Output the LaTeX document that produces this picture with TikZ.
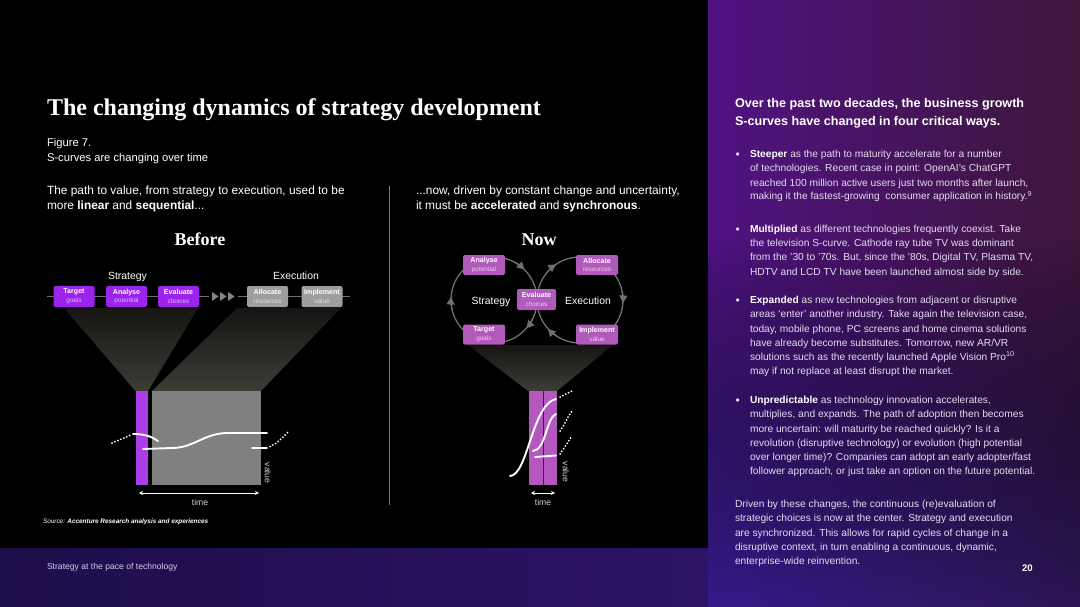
\documentclass[tikz,border=0pt]{standalone}
\usepackage{fontspec}
\setmainfont{Liberation Sans}
\newfontfamily\dispserif{Liberation Serif}
\usetikzlibrary{arrows.meta,fadings,calc}

\definecolor{panelL}{RGB}{80,18,130}
\definecolor{panelR}{RGB}{62,22,58}
\definecolor{panelLowL}{RGB}{54,26,140}
\definecolor{panelLowR}{RGB}{44,22,84}
\definecolor{footA}{RGB}{30,14,74}
\definecolor{footB}{RGB}{44,19,102}
\definecolor{vio}{RGB}{155,35,235}
\definecolor{vioSub}{RGB}{228,185,255}
\definecolor{boxGrey}{RGB}{158,158,158}
\definecolor{greySub}{RGB}{225,225,225}
\definecolor{plum}{RGB}{176,90,188}
\definecolor{plumSub}{RGB}{245,205,245}
\definecolor{barVio}{RGB}{170,62,232}
\definecolor{barGrey}{RGB}{128,128,128}
\definecolor{barPlum}{RGB}{180,88,192}
\definecolor{plumDiv}{RGB}{70,20,80}
\definecolor{funTop}{RGB}{22,21,19}
\definecolor{funBot}{RGB}{62,60,55}
\definecolor{ringGrey}{RGB}{112,112,112}
\definecolor{divLine}{RGB}{120,106,210}
\definecolor{bodyTxt}{RGB}{226,220,240}
\definecolor{footTxt}{RGB}{215,200,240}
\definecolor{axisTxt}{RGB}{210,210,210}

\tikzfading[name=riseup, top color=transparent!100, bottom color=transparent!0]

% two-line label inside a step box
\newcommand\steplabel[3]{\textbf{#1}\\{\fontsize{6.4}{8.6}\selectfont\color{#3}#2}}

\begin{document}
\begin{tikzpicture}[x=1pt,y=-1pt,
  txt/.style={inner sep=0pt,outer sep=0pt,anchor=base west,text=white},
  lead/.style={txt,font=\fontsize{11.9}{14}\selectfont},
  body/.style={txt,text=bodyTxt,font=\fontsize{10.2}{12}\selectfont},
  bulletmark/.style={txt,text=bodyTxt,font=\fontsize{12}{12}\selectfont},
  head/.style={txt,font=\fontsize{12.6}{15}\selectfont\bfseries},
  bigserif/.style={txt,anchor=base,font=\fontsize{18}{20}\selectfont\dispserif\bfseries},
  axislabel/.style={inner sep=0pt,text=axisTxt,font=\fontsize{8.6}{10}\selectfont},
  stagebox/.style={rectangle,rounded corners=2pt,minimum width=41pt,minimum height=21pt,
    inner sep=0pt,align=center,text=white,font=\fontsize{7.1}{8.6}\selectfont},
  oldstrat/.style={stagebox,fill=vio},
  oldexec/.style={stagebox,fill=boxGrey},
  newstep/.style={stagebox,fill=plum,minimum width=42pt,minimum height=20pt},
  rowline/.style={draw=ringGrey,line width=1.3pt},
  ring/.style={draw=ringGrey,line width=1.3pt},
  ringtip/.style={ring,-{Triangle[length=7.5pt,width=8pt]}},
  scurve/.style={draw=white,line width=1.9pt,line cap=round},
  dotcurve/.style={draw=white,line width=2pt,line cap=round,dash pattern=on 0pt off 3.2pt},
  timearrow/.style={draw=white,line width=0.8pt,{Stealth[length=4pt,width=4pt]}-{Stealth[length=4pt,width=4pt]}}
]
\useasboundingbox (0,0) rectangle (1080,607);

% ---------- backgrounds ----------
\fill[black] (0,0) rectangle (708,548);
\fill[left color=footA,right color=footB] (0,548) rectangle (708,607);
\fill[left color=panelL,right color=panelR] (708,0) rectangle (1080,607);
\fill[left color=panelLowL,right color=panelLowR,path fading=riseup] (708,240) rectangle (1080,607);

% ---------- title and captions ----------
\node[txt,font=\fontsize{24}{28}\selectfont\dispserif\bfseries] (title) at (47,115.4)
  {The changing dynamics of strategy development};
\node[txt,font=\fontsize{11.2}{13}\selectfont] (fignum) at (47,147) {Figure 7.};
\node[txt,font=\fontsize{11.2}{13}\selectfont] (figcap) at (47,162) {S-curves are changing over time};

\node[lead] (beforeA) at (47,195) {The path to value, from strategy to execution, used to be};
\node[lead] (beforeB) at (47,210) {more \textbf{linear} and \textbf{sequential}...};
\node[lead] (nowA) at (416,195) {...now, driven by constant change and uncertainty,};
\node[lead] (nowB) at (416,210) {it must be \textbf{accelerated} and \textbf{synchronous}.};

\coordinate (divTop) at (389,186);
\coordinate (divBot) at (389,505);
\draw[divLine,line width=0.9pt] (divTop) -- (divBot);

% ---------- Before ----------
\node[bigserif] (beforeHd) at (200,246) {Before};
\node[txt,anchor=base,font=\fontsize{10.4}{12}\selectfont] (stratLbl) at (127.5,279) {Strategy};
\node[txt,anchor=base,font=\fontsize{10.4}{12}\selectfont] (execLbl) at (296,279) {Execution};

% funnels beneath the step row
\fill[top color=funTop,bottom color=funBot] (64,308) -- (198,308) -- (148,391) -- (135.5,391) -- cycle;
\fill[top color=funTop,bottom color=funBot] (237,308) -- (341,308) -- (261,391) -- (152,391) -- cycle;

\coordinate (rowL) at (47,296.5);
\coordinate (rowR) at (350,296.5);
\draw[rowline] (rowL) -- (rowR);

\node[oldstrat] (target) at (74,296.5) {\steplabel{Target}{goals}{vioSub}};
\node[oldstrat] (analyse) at (126.5,296.5) {\steplabel{Analyse}{potential}{vioSub}};
\node[oldstrat] (evaluate) at (178.5,296.5) {\steplabel{Evaluate}{choices}{vioSub}};
\node[oldexec] (allocate) at (267.5,296.5) {\steplabel{Allocate}{resources}{greySub}};
\node[oldexec] (implement) at (322,296.5) {\steplabel{Implement}{value}{greySub}};

% hand-over chevrons
\fill[black] (209,288) rectangle (238,305);
\foreach \cx in {212,220,228}
  \fill[ringGrey!85] (\cx,292) -- (\cx+6.5,296.5) -- (\cx,301) -- cycle;

% strategy bar and execution block
\fill[barVio] (135.5,390.5) rectangle (148,485);
\fill[barGrey] (152,390.5) rectangle (261,485);

% S-curves
\draw[dotcurve] (112,443) -- (131,435);
\draw[scurve] (133,434) .. controls (146,434) and (152,437) .. (158,441);
\draw[scurve] (143,449) -- (172,448) .. controls (194,448) and (204,433) .. (228,433) -- (267,433);
\draw[scurve] (252,448) -- (267,448);
\draw[dotcurve] (270,446.5) .. controls (278,443) and (282,438) .. (288,432);

\coordinate (oldTimeL) at (139,493);
\coordinate (oldTimeR) at (259,493);
\draw[timearrow] (oldTimeL) -- (oldTimeR);
\node[axislabel,anchor=base] (oldTime) at (200,505.5) {time};
\node[axislabel,rotate=-90] (oldValue) at (268,473) {value};

% ---------- Now ----------
\node[bigserif] (nowHd) at (539,246) {Now};

\fill[top color=funTop,bottom color=funBot] (468,345) -- (613,345) -- (557,391) -- (528,391) -- cycle;

\coordinate (cl) at (494,300);
\coordinate (cr) at (580,300);
\draw[ring] (cl) circle[radius=43pt];
\draw[ring] (cr) circle[radius=43pt];
\draw[ringtip] ($(cl)+(192:43pt)$) arc[start angle=192,end angle=176,radius=43pt];
\draw[ringtip] ($(cl)+(60:43pt)$) arc[start angle=60,end angle=45,radius=43pt];
\draw[ringtip] ($(cl)+(-26:43pt)$) arc[start angle=-26,end angle=-41,radius=43pt];
\draw[ringtip] ($(cr)+(139:43pt)$) arc[start angle=139,end angle=124,radius=43pt];
\draw[ringtip] ($(cr)+(12:43pt)$) arc[start angle=12,end angle=-4,radius=43pt];
\draw[ringtip] ($(cr)+(237:43pt)$) arc[start angle=237,end angle=222,radius=43pt];

\node[txt,anchor=base,font=\fontsize{10.4}{12}\selectfont] (nowStrat) at (491,304.5) {Strategy};
\node[txt,anchor=base,font=\fontsize{10.4}{12}\selectfont] (nowExec) at (588,304.5) {Execution};

\node[newstep] (nAnalyse) at (484,265) {\steplabel{Analyse}{potential}{plumSub}};
\node[newstep] (nAllocate) at (597,265) {\steplabel{Allocate}{resources}{plumSub}};
\node[newstep,minimum width=39pt,minimum height=21pt] (nEvaluate) at (536.5,299.5) {\steplabel{Evaluate}{choices}{plumSub}};
\node[newstep] (nTarget) at (484,334.5) {\steplabel{Target}{goals}{plumSub}};
\node[newstep] (nImplement) at (597,334.5) {\steplabel{Implement}{value}{plumSub}};

% synchronised bars
\fill[barPlum] (529,391) rectangle (557,485);
\draw[plumDiv,line width=1pt] (543.5,391) -- (543.5,485);

\draw[scurve] (510,476) .. controls (528,475) and (532,404) .. (556,399);
\draw[dotcurve] (560,397) -- (572,391);
\draw[scurve] (533,451) .. controls (546,450) and (546,418) .. (556,414);
\draw[dotcurve] (560,431) .. controls (565,424) and (568,416) .. (572,411);
\draw[scurve] (535,457) -- (556,455.5);
\draw[dotcurve] (560,454) .. controls (565,447) and (568,442) .. (572,436);

\coordinate (newTimeL) at (531,493);
\coordinate (newTimeR) at (555,493);
\draw[timearrow] (newTimeL) -- (newTimeR);
\node[axislabel,anchor=base] (newTime) at (543,505.5) {time};
\node[axislabel,rotate=-90] (newValue) at (566,472) {value};

% ---------- source and footer ----------
\node[txt,font=\fontsize{6.4}{8}\selectfont\itshape] (source) at (43,523.5)
  {Source: \textbf{Accenture Research analysis and experiences}};
\node[txt,text=footTxt,font=\fontsize{8.6}{10}\selectfont] (footer) at (47,569) {Strategy at the pace of technology};
\node[txt,font=\fontsize{9.6}{11}\selectfont\bfseries] (pageNo) at (1022,571.5) {20};

% ---------- right panel ----------
\node[head] (hA) at (735,108) {Over the past two decades, the business growth};
\node[head] (hB) at (735,125.5) {S-curves have changed in four critical ways.};

\node[bulletmark] (dotA) at (735.5,158.5) {•};
\node[body] (pA1) at (750,157.7) {\textbf{\color{white}Steeper} as the path to maturity accelerate for a number};
\node[body] (pA2) at (750,171.9) {of technologies. Recent case in point: OpenAI’s ChatGPT};
\node[body] (pA3) at (750,186) {reached 100 million active users just two months after launch,};
\node[body] (pA4) at (750,200) {making it the fastest-growing\ \ consumer application in history.\textsuperscript{9}};

\node[bulletmark] (dotB) at (735.5,233.5) {•};
\node[body] (pB1) at (750,232.7) {\textbf{\color{white}Multiplied} as different technologies frequently coexist. Take};
\node[body] (pB2) at (750,246.7) {the television S-curve. Cathode ray tube TV was dominant};
\node[body] (pB3) at (750,261) {from the ’30 to ’70s. But, since the ’80s, Digital TV, Plasma TV,};
\node[body] (pB4) at (750,275) {HDTV and LCD TV have been launched almost side by side.};

\node[bulletmark] (dotC) at (735.5,304.5) {•};
\node[body] (pC1) at (750,303.7) {\textbf{\color{white}Expanded} as new technologies from adjacent or disruptive};
\node[body] (pC2) at (750,317.7) {areas ‘enter’ another industry. Take again the television case,};
\node[body] (pC3) at (750,332) {today, mobile phone, PC screens and home cinema solutions};
\node[body] (pC4) at (750,346) {have already become substitutes. Tomorrow, new AR/VR};
\node[body] (pC5) at (750,360.4) {solutions such as the recently launched Apple Vision Pro\textsuperscript{10}};
\node[body] (pC6) at (750,374.7) {may if not replace at least disrupt the market.};

\node[bulletmark] (dotD) at (735.5,404.5) {•};
\node[body] (pD1) at (750,403.7) {\textbf{\color{white}Unpredictable} as technology innovation accelerates,};
\node[body] (pD2) at (750,417.7) {multiplies, and expands. The path of adoption then becomes};
\node[body] (pD3) at (750,432) {more uncertain: will maturity be reached quickly? Is it a};
\node[body] (pD4) at (750,446) {revolution (disruptive technology) or evolution (high potential};
\node[body] (pD5) at (750,460.4) {over longer time)? Companies can adopt an early adopter/fast};
\node[body] (pD6) at (750,474.4) {follower approach, or just take an option on the future potential.};

\node[body] (pE1) at (735,507.7) {Driven by these changes, the continuous (re)evaluation of};
\node[body] (pE2) at (735,521.7) {strategic choices is now at the center. Strategy and execution};
\node[body] (pE3) at (735,536) {are synchronized. This allows for rapid cycles of change in a};
\node[body] (pE4) at (735,550) {disruptive context, in turn enabling a continuous, dynamic,};
\node[body] (pE5) at (735,564.4) {enterprise-wide reinvention.};
\end{tikzpicture}
\end{document}
